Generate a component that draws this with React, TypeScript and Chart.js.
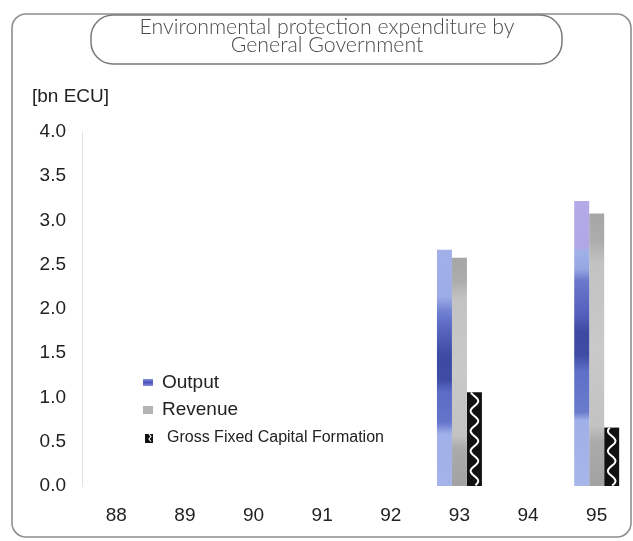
import React, { useEffect, useRef } from "react";
import { Chart, registerables } from "chart.js";

Chart.register(...registerables);

const categories = ["88", "89", "90", "91", "92", "93", "94", "95"];
const outputValues = [null, null, null, null, null, 2.67, null, 3.22];
const revenueValues = [null, null, null, null, null, 2.58, null, 3.08];
const gfcfValues = [null, null, null, null, null, 1.06, null, 0.66];
const seriesLabels = ["Output", "Revenue", "Gross Fixed Capital Formation"];
const titleLines = ["Environmental protection expenditure by", "General Government"];
const unitLabel = "[bn ECU]";

const TICK_FONT = "'Liberation Sans', Arial, sans-serif";

function barGradient(ctx: any, stops: [number, string][], fallback: string) {
  const chart = ctx.chart;
  const y = chart.scales && chart.scales.y;
  if (!y || ctx.type !== "data" || ctx.raw == null) return fallback;
  const top = y.getPixelForValue(ctx.raw);
  const bot = y.getPixelForValue(0);
  if (!isFinite(top) || !isFinite(bot) || top === bot) return fallback;
  const g = chart.ctx.createLinearGradient(0, top, 0, bot);
  stops.forEach(([o, c]) => g.addColorStop(o, c));
  return g;
}

const outputStopsA: [number, string][] = [
  [0, "#a2b0ea"], [0.2, "#9cace6"], [0.26, "#7282d2"], [0.32, "#5c6ac4"],
  [0.45, "#3c4aa2"], [0.55, "#3e4ca4"], [0.6, "#5c6cc6"], [0.73, "#6474ca"],
  [0.78, "#a0b0e8"], [1, "#a4b4ea"],
];
const outputStopsB: [number, string][] = [
  [0, "#b4aae8"], [0.16, "#b0a8e6"], [0.18, "#a0b0e8"], [0.24, "#96a6e2"],
  [0.28, "#6a78cc"], [0.4, "#5260bc"], [0.46, "#3c4aa2"], [0.54, "#3e4ca4"],
  [0.6, "#6070c8"], [0.74, "#6a7acc"], [0.77, "#a0b0e8"], [1, "#a6b6ea"],
];
const revenueStops: [number, string][] = [
  [0, "#a6a6a6"], [0.1, "#acacac"], [0.18, "#c2c2c2"], [0.5, "#c9c9c9"],
  [0.78, "#c2c2c2"], [0.84, "#aaaaaa"], [1, "#a2a2a2"],
];

const framePlugin = {
  id: "framePlugin",
  beforeDraw(chart: any) {
    const c = chart.ctx;
    c.save();
    c.fillStyle = "#ffffff";
    c.fillRect(0, 0, chart.width, chart.height);
    c.strokeStyle = "#8f8f8f";
    c.lineWidth = 1.6;
    c.beginPath();
    c.roundRect(12, 14, 619, 523, 14);
    c.stroke();
    c.restore();
  },
  afterDraw(chart: any) {
    const c = chart.ctx;
    c.save();
    // title box
    c.fillStyle = "#ffffff";
    c.strokeStyle = "#7a7a7a";
    c.lineWidth = 1.5;
    c.beginPath();
    c.roundRect(91, 15, 471, 49, 22);
    c.fill();
    c.stroke();
    // title text
    c.fillStyle = "#4a4a4a";
    c.textAlign = "center";
    c.textBaseline = "alphabetic";
    const base = 17;
    c.font = `300 ${base}px Lato, 'Noto Sans', sans-serif`;
    const w = c.measureText(titleLines[0]).width;
    const size = base * (375 / w);
    c.font = `300 ${size.toFixed(2)}px Lato, 'Noto Sans', sans-serif`;
    c.fillText(titleLines[0], 327, 34);
    c.fillText(titleLines[1], 327, 52);
    // unit label
    c.fillStyle = "#222222";
    c.textAlign = "left";
    c.textBaseline = "middle";
    c.font = `19px ${TICK_FONT}`;
    c.fillText(unitLabel, 32, 97);

    // legend
    const ds = chart.data.datasets;
    const gOut = c.createLinearGradient(0, 379, 0, 386);
    gOut.addColorStop(0, "#8890dc");
    gOut.addColorStop(0.5, "#4a52b8");
    gOut.addColorStop(1, "#8890dc");
    c.fillStyle = gOut;
    c.fillRect(143, 379, 10, 7);
    c.fillStyle = "#222222";
    c.font = `19px ${TICK_FONT}`;
    c.fillText(ds[0].label, 162, 383);
    c.fillStyle = "#b4b4b4";
    c.fillRect(143, 406, 10, 8);
    c.fillStyle = "#222222";
    c.fillText(ds[1].label, 162, 410);
    c.fillStyle = "#111111";
    c.fillRect(145, 434, 8, 9);
    c.strokeStyle = "#ffffff";
    c.lineWidth = 1.2;
    c.beginPath();
    c.moveTo(149, 434);
    c.lineTo(151, 436.5);
    c.lineTo(149, 439);
    c.lineTo(151, 441.5);
    c.stroke();
    c.fillStyle = "#222222";
    c.font = `16px ${TICK_FONT}`;
    c.fillText(ds[2].label, 167, 438);
    c.restore();
  },
  afterDatasetsDraw(chart: any) {
    const meta = chart.getDatasetMeta(2);
    const c = chart.ctx;
    meta.data.forEach((el: any, i: number) => {
      if (chart.data.datasets[2].data[i] == null) return;
      const { x, y, base, width } = el.getProps(["x", "y", "base", "width"], true);
      if (!isFinite(y)) return;
      const left = x - width / 2;
      c.save();
      c.beginPath();
      c.rect(left, y, width, base - y);
      c.clip();
      c.strokeStyle = "#ffffff";
      c.lineWidth = 2;
      c.beginPath();
      const period = 20;
      const amp = 3.8;
      for (let yy = y; yy <= base; yy += 1) {
        const xx = x + amp * Math.sin(((base - yy) / period) * Math.PI * 2);
        if (yy === y) c.moveTo(xx, yy);
        else c.lineTo(xx, yy);
      }
      c.stroke();
      c.restore();
    });
  },
};

export default function App() {
  const ref = useRef<HTMLCanvasElement | null>(null);

  useEffect(() => {
    document.body.style.margin = "0";
    if (!ref.current) return;
    const chart = new Chart(ref.current, {
      type: "bar",
      data: {
        labels: categories,
        datasets: [
          {
            label: seriesLabels[0],
            data: outputValues,
            backgroundColor: (ctx: any) =>
              barGradient(ctx, ctx.dataIndex === 7 ? outputStopsB : outputStopsA, "#6070c8"),
            borderWidth: 0,
          },
          {
            label: seriesLabels[1],
            data: revenueValues,
            backgroundColor: (ctx: any) => barGradient(ctx, revenueStops, "#bbbbbb"),
            borderWidth: 0,
          },
          {
            label: seriesLabels[2],
            data: gfcfValues,
            backgroundColor: "#111111",
            borderWidth: 0,
          },
        ],
      },
      options: {
        responsive: false,
        animation: false,
        layout: { padding: { top: 132, right: 2, left: 0, bottom: 0 } },
        plugins: {
          legend: { display: false },
          title: { display: false },
          tooltip: { enabled: false },
        },
        datasets: {
          bar: { categoryPercentage: 0.655, barPercentage: 1.0 },
        },
        scales: {
          x: {
            grid: { display: false, drawTicks: false },
            border: { display: false },
            ticks: {
              font: { family: TICK_FONT, size: 19 },
              color: "#222222",
              padding: 18,
            },
            afterFit: (s: any) => {
              s.height = 55;
            },
          },
          y: {
            min: 0,
            max: 4,
            grid: { display: false, drawTicks: false },
            border: { display: true, color: "#e2e2e2", dash: [5, 5] },
            ticks: {
              stepSize: 0.5,
              font: { family: TICK_FONT, size: 19 },
              color: "#222222",
              padding: 16,
              callback: (v: any) => Number(v).toFixed(1),
            },
            afterFit: (s: any) => {
              s.width = 82;
            },
          },
        },
      },
      plugins: [framePlugin],
    });
    return () => chart.destroy();
  }, []);

  return <canvas ref={ref} width={633} height={541} style={{ display: "block" }} />;
}
